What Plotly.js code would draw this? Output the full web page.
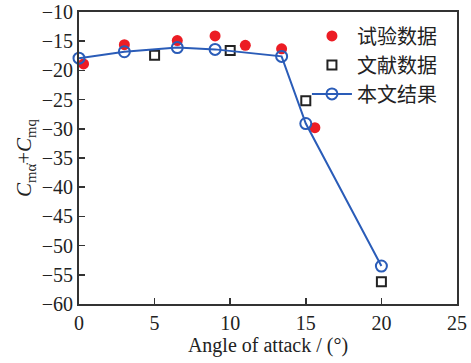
<!DOCTYPE html>
<html>
<head>
<meta charset="utf-8">
<script src="https://cdn.plot.ly/plotly-3.0.1.min.js"></script>
<style>html,body{margin:0;padding:0;background:#fff;}#chart{width:471px;height:363px;}</style>
</head>
<body>
<div id="chart"></div>
<script>
// Data
const expX = [0.3, 3, 6.5, 9, 11, 13.4, 15.6];
const expY = [-18.9, -15.6, -14.9, -14.1, -15.7, -16.3, -29.8];
const refX = [5, 10, 15, 20];
const refY = [-17.4, -16.6, -25.2, -56.2];
const curX = [0, 3, 6.5, 9, 13.4, 15, 20];
const curY = [-17.9, -16.8, -16.1, -16.4, -17.6, -29.1, -53.5];
const seriesNames = ['试验数据', '文献数据', '本文结果'];
const xTicks = [0, 5, 10, 15, 20, 25];
const yTicks = [-10, -15, -20, -25, -30, -35, -40, -45, -50, -55, -60];

const serif = 'Liberation Serif, Times New Roman, serif';
const cjk = 'Noto Sans CJK SC, sans-serif';

const traces = [
  {x: expX, y: expY, name: seriesNames[0], mode: 'markers', type: 'scatter',
   marker: {symbol: 'circle', size: 11, color: '#ec1c24'}, cliponaxis: false},
  {x: refX, y: refY, name: seriesNames[1], mode: 'markers', type: 'scatter',
   marker: {symbol: 'square-open', size: 9, color: '#222', line: {width: 2, color: '#222'}}, cliponaxis: false},
  {x: curX, y: curY, name: seriesNames[2], mode: 'lines+markers', type: 'scatter',
   line: {color: '#2a5cb8', width: 2},
   marker: {symbol: 'circle-open', size: 11, color: '#2a5cb8', line: {width: 2, color: '#2a5cb8'}}, cliponaxis: false}
];

const layout = {
  width: 471, height: 363,
  margin: {l: 79, r: 14, t: 12, b: 59},
  paper_bgcolor: '#fff', plot_bgcolor: '#fff',
  showlegend: true,
  legend: {x: 0.603, y: 0.985, xanchor: 'left', yanchor: 'top', bgcolor: 'rgba(0,0,0,0)',
           font: {family: cjk, size: 20, color: '#222'}, tracegroupgap: 0, itemwidth: 40},
  xaxis: {range: [0, 25], tickvals: xTicks, ticktext: xTicks.map(String),
          ticks: 'inside', ticklen: 6, tickwidth: 1.5, tickcolor: '#333',
          showline: true, linecolor: '#333', linewidth: 2, mirror: true,
          showgrid: false, zeroline: false,
          tickfont: {family: serif, size: 20, color: '#222'},
          title: {text: 'Angle of attack / (°)', font: {family: serif, size: 20, color: '#222'}, standoff: 4}},
  yaxis: {range: [-60, -10], tickvals: yTicks, ticktext: yTicks.map(v => '−' + Math.abs(v)),
          ticks: 'inside', ticklen: 6, tickwidth: 1.5, tickcolor: '#333',
          showline: true, linecolor: '#333', linewidth: 2, mirror: true,
          showgrid: false, zeroline: false,
          tickfont: {family: serif, size: 20, color: '#222'},
          title: {text: '<i>C</i><sub>mα̇</sub>+<i>C</i><sub>mq</sub>', font: {family: serif, size: 21, color: '#222'}, standoff: 4}}
};

Plotly.newPlot('chart', traces, layout, {displayModeBar: false, staticPlot: true});
</script>
</body>
</html>
